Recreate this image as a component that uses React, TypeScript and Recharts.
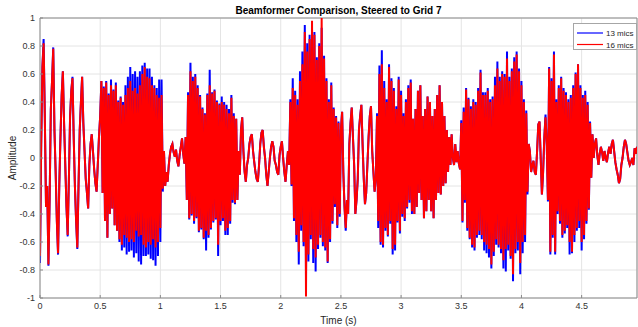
import React from "react";
import {
  LineChart,
  Line,
  XAxis,
  YAxis,
  CartesianGrid,
  ReferenceLine
} from "recharts";

// amplitude x 100, one value every 10 ms, 0.5 s per block
const red0 = [
  -70, 10, 65, 82, 30, -35, -20, -76, -30, 35,
  55, 78, 20, -10, -45, -68, -20, 15, 45, 62,
  25, -5, -35, -55, -15, 30, 48, 57, 15, -20,
  -45, -64, -20, 20, 40, 58, 25, 5, -15, -25,
  -36, -5, 10, 17, 5, -8, -18, -24, -5, 15,
];
const red1 = [
  30, 55, -25, 50, -45, 54, -57, 45, -40, 52,
  -36, 48, -48, 52, -52, 40, -58, 43, -62, 38,
  -55, 45, -57, 50, -60, 55, -58, 48, -60, 50,
  -52, 46, -56, 52, -55, 60, -62, 65, -64, 58,
  -60, 57, -62, 52, -58, 50, -64, 45, -60, 43,
];
const red2 = [
  -50, 45, -22, 5, -20, -10, -17, -5, 3, 8,
  10, 4, 1, 6, -2, -6, 2, 8, 14, 3,
  -4, 15, -30, 45, -43, 62, -40, 55, -45, 58,
  -42, 50, -52, 44, -50, 35, -57, 31, -52, 45,
  -55, 52, -50, 46, -45, 48, -43, 40, -62, 38,
];
const red3 = [
  -45, 40, -43, 38, -52, 35, -50, 32, -45, 43,
  -30, 30, -32, 28, -30, 5, -12, 20, 29, 5,
  -10, -17, -5, 0, 10, 15, 17, 5, -3, -10,
  -15, -17, -5, 10, 18, 20, 8, 0, -12, -20,
  -10, 0, 8, 12, 8, -2, -5, -10, -12, 2,
];
const red4 = [
  8, 12, 0, -10, -17, -5, 5, -5, 40, -19,
  50, -43, 45, -55, 38, -67, 55, -48, 67, -60,
  90, -99, 76, -69, 85, -55, 98, -65, 88, -71,
  70, -62, 80, -55, 100, -60, 71, -64, 55, -74,
  40, -58, 52, -45, 35, -33, 29, -48, 25, -40,
];
const red5 = [
  20, 33, -10, -35, -50, -30, -40, 10, 25, 36,
  15, -5, -40, -30, -15, 20, 30, 38, 10, -15,
  -33, -25, -5, 15, 30, 37, 5, -10, -24, -15,
  30, -45, 60, -60, 67, -62, 50, -50, 40, -55,
  65, -45, 55, -65, 48, -62, 35, -45, 56, -52,
];
const red6 = [
  45, -40, 30, -43, 40, -35, 50, -30, 54, -38,
  28, -40, 35, -35, 48, -25, 52, -30, 30, -43,
  35, -38, 44, -30, 40, -38, 30, -43, 35, -30,
  45, -25, 52, -26, 40, -20, 30, -18, 20, -10,
  15, -5, 17, 0, -5, 10, -3, 5, -4, -8,
];
const red7 = [
  25, -45, 33, -30, 49, -50, 42, -57, 35, -62,
  40, -64, 38, -55, 48, -52, 61, -55, 45, -60,
  45, -62, 48, -65, 40, -76, 42, -67, 52, -58,
  64, -62, 55, -65, 60, -73, 58, -65, 71, -62,
  55, -70, 62, -83, 69, -65, 74, -60, 62, -75,
];
const red8 = [
  52, -60, 40, -55, 32, -24, 10, 5, -10, -5,
  -2, -10, -12, 5, 24, 26, 0, -26, -10, 15,
  29, 10, -30, 64, -67, 55, -55, 74, -67, 40,
  -38, 50, -45, 57, -55, 48, -52, 45, -48, 40,
  -60, 43, -67, 50, -55, 60, -50, 67, -45, 50,
];
const red9 = [
  -60, 43, -55, 45, -45, 38, -36, 25, -14, 17,
  0, 10, 14, 2, -5, 3, 8, 4, -2, 5,
  0, -3, 4, 8, 3, 10, 13, 5, -3, -8,
  -12, -18, -15, -5, 0, 8, 13, 10, 4, -2,
  -5, -3, 0, -5, 7, 3, 8,
];

const blue0 = [
  -75, 10, 65, 85, 30, -35, -20, -77, -30, 35,
  55, 79, 20, -10, -45, -69, -20, 15, 45, 62,
  25, -5, -35, -56, -15, 30, 48, 58, 15, -20,
  -45, -65, -20, 20, 40, 58, 25, 5, -15, -25,
  -36, -5, 10, 17, 5, -8, -18, -24, -5, 15,
];
const blue1 = [
  30, 55, -25, 51, -45, 55, -57, 46, -40, 56,
  -36, 49, -48, 54, -52, 41, -60, 44, -66, 40,
  -64, 52, -69, 58, -67, 65, -66, 60, -71, 62,
  -68, 58, -74, 62, -76, 66, -70, 68, -70, 64,
  -69, 64, -72, 58, -73, 52, -77, 50, -70, 56,
];
const blue2 = [
  -60, 56, -24, 5, -20, -10, -17, -5, 3, 8,
  10, 4, 1, 6, -2, -6, 2, 8, 14, 3,
  -4, 15, -30, 47, -44, 68, -41, 58, -47, 60,
  -43, 52, -53, 45, -51, 36, -58, 32, -66, 46,
  -57, 63, -51, 47, -46, 49, -44, 41, -70, 39,
];
const blue3 = [
  -48, 44, -45, 40, -55, 38, -55, 35, -47, 45,
  -32, 32, -33, 28, -30, 5, -12, 20, 29, 5,
  -10, -17, -5, 0, 10, 15, 17, 5, -3, -10,
  -15, -17, -5, 10, 18, 20, 8, 0, -12, -20,
  -10, 0, 8, 12, 8, -2, -5, -10, -12, 2,
];
const blue4 = [
  8, 12, 0, -10, -17, -5, 5, -5, 42, -20,
  57, -45, 48, -60, 42, -76, 62, -52, 76, -63,
  95, -85, 82, -74, 88, -58, 92, -75, 90, -81,
  72, -65, 82, -57, 93, -63, 73, -66, 57, -75,
  42, -60, 54, -47, 36, -35, 30, -50, 26, -42,
];
const blue5 = [
  20, 33, -10, -35, -52, -30, -40, 10, 25, 36,
  15, -5, -40, -30, -15, 20, 30, 38, 10, -15,
  -33, -25, -5, 15, 30, 37, 5, -10, -24, -15,
  32, -50, 66, -62, 77, -64, 55, -52, 42, -56,
  67, -47, 57, -69, 50, -66, 37, -46, 58, -54,
];
const blue6 = [
  48, -42, 32, -45, 42, -36, 52, -32, 56, -40,
  28, -40, 35, -35, 48, -25, 52, -30, 30, -43,
  35, -38, 44, -30, 40, -38, 30, -43, 35, -30,
  45, -25, 52, -26, 40, -20, 30, -18, 20, -10,
  15, -5, 17, 0, -5, 10, -3, 5, -4, -8,
];
const blue7 = [
  27, -46, 36, -32, 50, -52, 43, -58, 37, -64,
  42, -66, 40, -57, 50, -55, 63, -58, 47, -66,
  47, -68, 50, -71, 42, -79, 44, -70, 58, -62,
  69, -64, 58, -68, 62, -79, 60, -81, 76, -66,
  58, -72, 64, -88, 72, -68, 76, -66, 64, -83,
];
const blue8 = [
  55, -68, 42, -60, 34, -26, 10, 5, -10, -5,
  -2, -10, -12, 5, 24, 26, 0, -26, -10, 15,
  31, 10, -31, 65, -69, 57, -57, 76, -69, 42,
  -40, 52, -47, 58, -57, 50, -54, 47, -50, 42,
  -69, 45, -68, 52, -60, 61, -52, 67, -50, 52,
];
const blue9 = [
  -66, 45, -58, 48, -47, 40, -37, 26, -14, 17,
  0, 10, 14, 2, -5, 3, 8, 4, -2, 5,
  0, -3, 4, 8, 3, 10, 13, 5, -3, -8,
  -12, -18, -15, -5, 0, 8, 13, 10, 4, -2,
  -5, -3, 0, -5, 7, 3, 8,
];

const xTicks = [0, 0.5, 1, 1.5, 2, 2.5, 3, 3.5, 4, 4.5];
const yTicks = [-1, -0.8, -0.6, -0.4, -0.2, 0, 0.2, 0.4, 0.6, 0.8, 1];

const mic16 = [red0, red1, red2, red3, red4, red5, red6, red7, red8, red9].flat();
const mic13 = [blue0, blue1, blue2, blue3, blue4, blue5, blue6, blue7, blue8, blue9].flat();

const data = mic16.map((v, i) => ({
  t: i / 100,
  m16: v / 100,
  m13: mic13[i] / 100,
}));

const FONT = '"Liberation Sans", Arial, sans-serif';
const AXIS = "#8a8a8a";
const TMAX = 4.96;

const Legend13 = () => (
  <div
    style={{
      position: "absolute",
      left: 573,
      top: 23,
      width: 62,
      height: 25,
      border: "1px solid #a6a6a6",
      background: "#fff",
    }}
  >
    <svg width={62} height={25} style={{ display: "block" }}>
      <line x1={3} x2={29} y1={9} y2={9} stroke="#0000ff" strokeWidth={1.2} />
      <line x1={3} x2={29} y1={20.5} y2={20.5} stroke="#ff0000" strokeWidth={1.2} />
      <text x={32} y={12} fontSize={8} fontFamily={FONT} fill="#262626">13 mics</text>
      <text x={32} y={23.5} fontSize={8} fontFamily={FONT} fill="#262626">16 mics</text>
    </svg>
  </div>
);

export default function App() {
  return (
    <div
      style={{
        position: "absolute",
        left: 0,
        top: 0,
        width: 638,
        height: 327,
        background: "#fff",
        fontFamily: FONT,
      }}
    >
      <div
        style={{
          position: "absolute",
          left: 40,
          top: 4,
          width: 597,
          textAlign: "center",
          fontSize: 10,
          lineHeight: "14px",
          fontWeight: "bold",
          color: "#000",
        }}
      >
        Beamformer Comparison, Steered to Grid 7
      </div>
      <LineChart
        width={638}
        height={327}
        data={data}
        margin={{ top: 18, right: 1, left: 0, bottom: 0 }}
        style={{ fontFamily: FONT }}
      >
        <CartesianGrid stroke="#e4e4e4" strokeDasharray="" />
        <XAxis
          dataKey="t"
          type="number"
          domain={[0, TMAX]}
          ticks={xTicks}
          allowDataOverflow
          height={29}
          stroke={AXIS}
          tickLine={{ stroke: AXIS }}
          tickSize={-3}
          tickMargin={8}
          tick={{ fontSize: 9, fill: "#333" }}
          label={{ value: "Time (s)", position: "insideBottom", offset: 3, fontSize: 10, fill: "#262626" }}
        />
        <YAxis
          type="number"
          domain={[-1, 1]}
          ticks={yTicks}
          allowDataOverflow
          width={40}
          stroke={AXIS}
          tickLine={{ stroke: AXIS }}
          tickSize={-3}
          tickMargin={8}
          tick={{ fontSize: 9, fill: "#333" }}
          label={{
            value: "Amplitude",
            angle: -90,
            position: "insideLeft",
            offset: 12,
            fontSize: 10,
            fill: "#262626",
            style: { textAnchor: "middle" },
          }}
        />
        <ReferenceLine y={1} stroke={AXIS} />
        <ReferenceLine x={TMAX} stroke={AXIS} />
        <Line
          dataKey="m13"
          stroke="#0000ff"
          strokeWidth={2}
          dot={false}
          type="linear"
          isAnimationActive={false}
        />
        <Line
          dataKey="m16"
          stroke="#ff0000"
          strokeWidth={2}
          dot={false}
          type="linear"
          isAnimationActive={false}
        />
      </LineChart>
      <Legend13 />
    </div>
  );
}
